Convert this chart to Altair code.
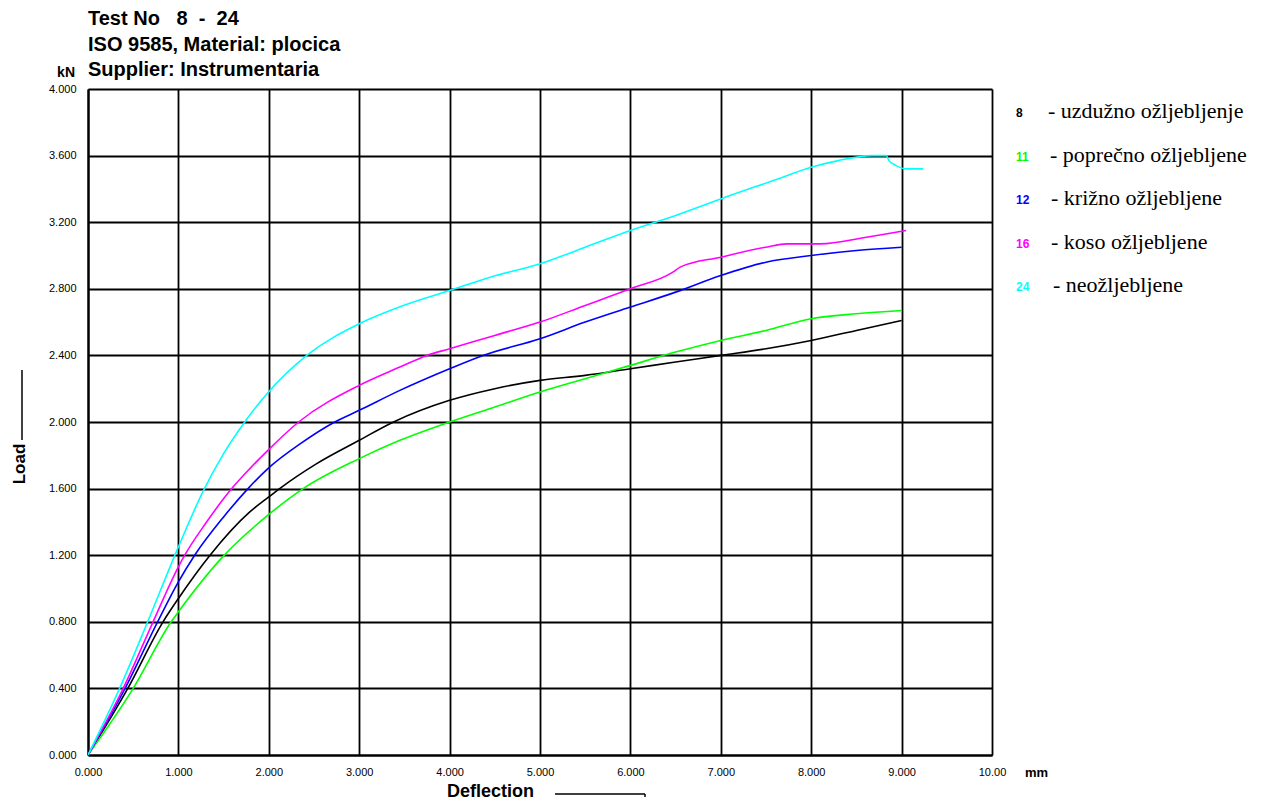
import altair as alt
import pandas as pd

# ---- data ----
series_ids = ["8", "11", "12", "16", "24"]
series_labels = ["- uzdužno ožljebljenje", "- poprečno ožljebljene", "- križno ožljebljene",
                 "- koso ožljebljene", "- neožljebljene"]
series_colors = ["#000000", "#00FF00", "#0000FF", "#FF00FF", "#00FFFF"]

x_8 = [0, 0.44, 0.83, 1.0, 1.35, 1.79, 2.0, 2.12, 2.53, 3.0, 3.38, 4.0, 4.5, 5.0, 5.5, 6.0, 6.5, 7.0, 7.5, 8.0, 8.5, 9.0]
y_8 = [0, 0.40, 0.80, 0.94, 1.20, 1.46, 1.55, 1.60, 1.75, 1.89, 2.00, 2.13, 2.20, 2.25, 2.28, 2.32, 2.36, 2.40, 2.44, 2.49, 2.55, 2.61]

x_11 = [0, 0.5, 0.92, 1.0, 1.49, 1.99, 2.38, 3.0, 3.45, 4.0, 4.5, 5.0, 5.5, 6.0, 6.5, 7.0, 7.5, 8.0, 8.5, 9.0]
y_11 = [0, 0.40, 0.80, 0.86, 1.19, 1.44, 1.60, 1.78, 1.89, 2.00, 2.09, 2.18, 2.26, 2.34, 2.42, 2.49, 2.55, 2.62, 2.65, 2.67]

x_12 = [0, 0.41, 0.77, 1.0, 1.18, 1.5, 1.77, 1.99, 2.35, 2.73, 3.0, 3.45, 4.0, 4.37, 5.0, 5.5, 6.0, 6.5, 7.0, 7.5, 8.0, 8.5, 9.0]
y_12 = [0, 0.40, 0.80, 1.04, 1.20, 1.43, 1.60, 1.72, 1.87, 2.00, 2.07, 2.19, 2.32, 2.40, 2.50, 2.60, 2.69, 2.78, 2.88, 2.96, 3.00, 3.03, 3.05]

x_16 = [0, 0.39, 0.72, 1.0, 1.07, 1.3, 1.59, 1.79, 1.99, 2.33, 3.0, 3.45, 3.75, 4.0, 4.5, 5.0, 5.5, 6.0, 6.47, 6.55, 7.0, 7.5, 7.73, 8.1, 8.61, 9.05]
y_16 = [0, 0.40, 0.80, 1.13, 1.20, 1.39, 1.60, 1.72, 1.83, 2.00, 2.22, 2.33, 2.40, 2.44, 2.52, 2.60, 2.70, 2.80, 2.90, 2.93, 2.99, 3.05, 3.07, 3.07, 3.11, 3.15]

x_24 = [0, 0.35, 0.66, 1.0, 1.27, 1.5, 1.72, 1.98, 2.42, 3.0, 3.49, 4.0, 4.45, 5.0, 5.5, 6.0, 6.5, 7.0, 7.58, 8.0, 8.3, 8.67, 8.83, 8.86, 8.94, 9.06, 9.24]
y_24 = [0, 0.40, 0.80, 1.25, 1.58, 1.81, 1.99, 2.17, 2.40, 2.59, 2.70, 2.79, 2.87, 2.95, 3.05, 3.15, 3.24, 3.34, 3.45, 3.53, 3.57, 3.60, 3.60, 3.57, 3.54, 3.52, 3.52]

x_ticks = [0, 1, 2, 3, 4, 5, 6, 7, 8, 9, 10]
y_ticks = [0, 0.4, 0.8, 1.2, 1.6, 2.0, 2.4, 2.8, 3.2, 3.6, 4.0]

title_lines = ["Test No\u00a0\u00a0 8\u00a0 - \u00a024", "ISO 9585, Material: plocica", "Supplier: Instrumentaria"]

# ---- build table ----
xs = [x_8, x_11, x_12, x_16, x_24]
ys = [y_8, y_11, y_12, y_16, y_24]
rows = []
for sid, xv, yv in zip(series_ids, xs, ys):
    for i, (a, b) in enumerate(zip(xv, yv)):
        rows.append({"series": sid, "order": i, "Deflection": a, "Load": b})
df = pd.DataFrame(rows)

W, H = 904, 666
SANS = "Liberation Sans"
SERIF = "Liberation Serif"

lines = alt.Chart(df).mark_line(strokeWidth=1.6, clip=True, interpolate="monotone").encode(
    x=alt.X("Deflection:Q",
            scale=alt.Scale(domain=[0, 10], nice=False, zero=False),
            axis=alt.Axis(values=x_ticks, title=None, grid=True, ticks=False,
                          labelExpr="datum.value == 10 ? '10.00' : format(datum.value, '.3f')",
                          labelPadding=11, labelFontSize=11, labelFont=SANS, labelColor="#000",
                          gridColor="#000", gridWidth=1.8, gridOpacity=1,
                          domainColor="#000", domainWidth=2.2, labelFlush=False)),
    y=alt.Y("Load:Q",
            scale=alt.Scale(domain=[0, 4], nice=False),
            axis=alt.Axis(values=y_ticks, title=None, grid=True, ticks=False, format=".3f",
                          labelPadding=12, labelFontSize=11, labelFont=SANS, labelColor="#000",
                          gridColor="#000", gridWidth=1.8, gridOpacity=1,
                          domainColor="#000", domainWidth=2.2, labelFlush=False)),
    color=alt.Color("series:N", scale=alt.Scale(domain=series_ids, range=series_colors), legend=None),
    order="order:Q",
    detail="series:N",
)

one = pd.DataFrame({"a": [0]})


def txt(text, x, y, size, bold=False, font=SANS, color="#000", align="left", angle=0):
    kw = dict(fontSize=size, font=font, color=color, align=align, baseline="middle")
    if bold:
        kw["fontWeight"] = "bold"
    if angle:
        kw["angle"] = angle
    return alt.Chart(one).mark_text(**kw).encode(
        x=alt.value(x), y=alt.value(y), text=alt.value(text))


def seg(x1, y1, x2, y2, w=1.5):
    return alt.Chart(one).mark_rule(color="#000", strokeWidth=w).encode(
        x=alt.value(x1), y=alt.value(y1), x2=alt.value(x2), y2=alt.value(y2))


layers = [lines]
for i, t in enumerate(title_lines):
    layers.append(txt(t, 0, -70 + 25.5 * i, 20, bold=True))
layers.append(txt("kN", -13, -16, 14, bold=True, align="right"))
layers.append(txt("mm", 937, 684, 13, bold=True))
layers.append(txt("Deflection", 359, 703, 18, bold=True))
layers.append(seg(467, 705, 557, 705))
layers.append(seg(557, 705, 557, 708))
layers.append(txt("Load", -68, 375, 17, bold=True, angle=270, align="center"))
layers.append(seg(-66, 281, -66, 351))

label_x = [960, 962, 963, 963, 965]
for i, (sid, lab, col) in enumerate(zip(series_ids, series_labels, series_colors)):
    yy = 22 + i * 43.5
    layers.append(txt(sid, 928, yy + 2, 12, bold=True, color=col))
    layers.append(txt(lab, label_x[i], yy, 22, font=SERIF))

chart = alt.layer(*layers).properties(
    width=W, height=H,
    autosize=alt.AutoSizeParams(type="none"),
    padding={"left": 80, "top": 81, "right": 266, "bottom": 49},
).configure_view(stroke=None)

chart.save("out.html", embed_options={"renderer": "svg", "actions": False})
